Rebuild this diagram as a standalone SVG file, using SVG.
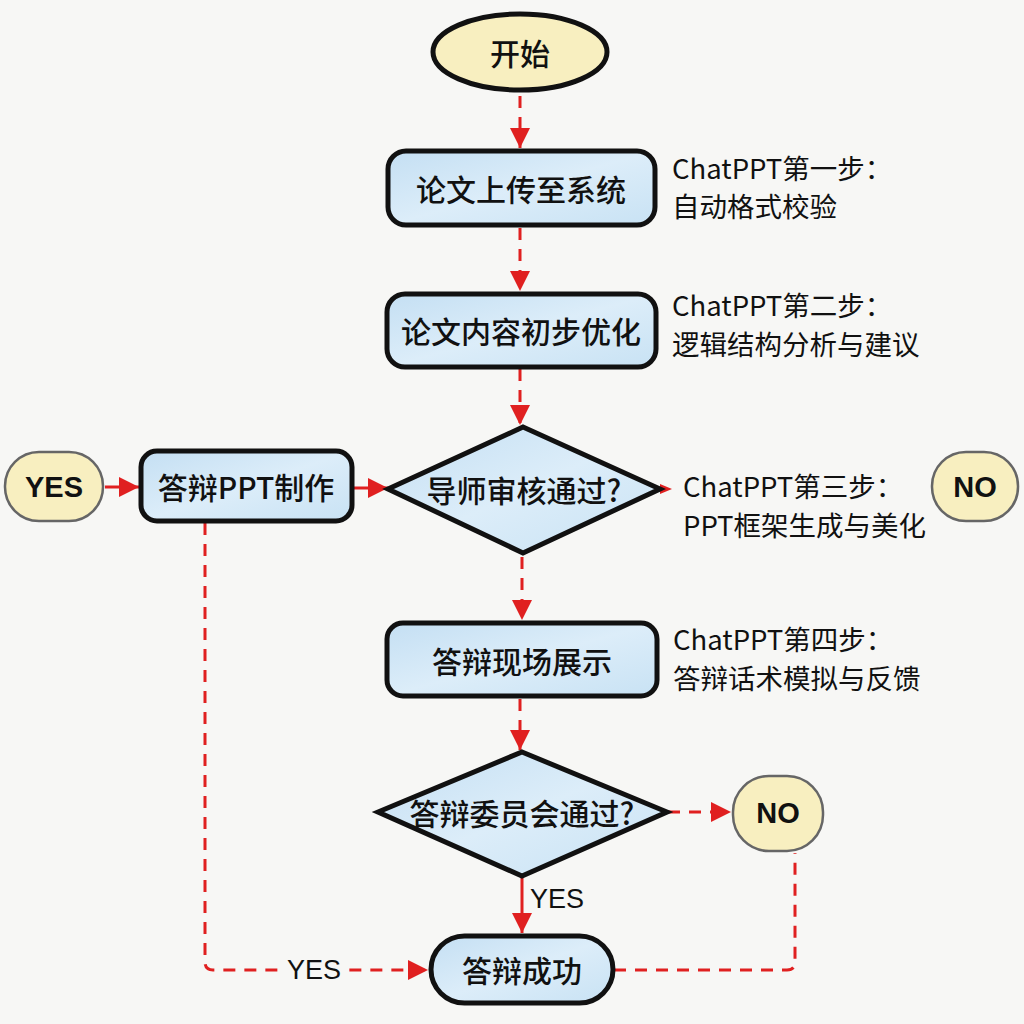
<svg xmlns="http://www.w3.org/2000/svg" width="1024" height="1024" viewBox="0 0 1024 1024">
<defs>
<style>
.node{stroke:#111;stroke-width:5}
.blue{fill:url(#gb)}
.yel{fill:#f8efc0}
.pill{fill:#f8efc0;stroke:#666;stroke-width:2.5}
.t{font-family:"Noto Sans CJK SC","Liberation Sans",sans-serif;font-size:30px;font-weight:500;fill:#111;text-anchor:middle;dominant-baseline:central}
.k{font-family:"Liberation Sans",sans-serif;font-size:29px;font-weight:bold;fill:#111;text-anchor:middle;dominant-baseline:central}
.s{font-family:"Noto Sans CJK SC","Liberation Sans",sans-serif;font-size:27.5px;fill:#111}
.l{font-family:"Liberation Sans Narrow","Liberation Sans",sans-serif;font-size:27px;fill:#111}
.d{fill:none;stroke:#e02020;stroke-width:3;stroke-dasharray:12 9}
.sol{fill:none;stroke:#e02020;stroke-width:3}
</style>
<linearGradient id="gb" x1="0" y1="0" x2="1" y2="1">
<stop offset="0" stop-color="#c4dff3"/>
<stop offset="0.5" stop-color="#dcedf9"/>
<stop offset="1" stop-color="#c8e2f4"/>
</linearGradient>
<marker id="ah" markerWidth="22" markerHeight="20" refX="20" refY="10" orient="auto" markerUnits="userSpaceOnUse">
<path d="M0,0 L20,10 L0,20 Z" fill="#e02020"/>
</marker>
</defs>
<rect width="1024" height="1024" fill="#f7f7f5"/>

<g id="connectors">
<line class="d" x1="520" y1="96" x2="520" y2="148" marker-end="url(#ah)"/>
<line class="d" x1="520" y1="228" x2="520" y2="291" marker-end="url(#ah)"/>
<line class="d" x1="520" y1="369" x2="520" y2="425" marker-end="url(#ah)"/>
<line class="sol" x1="105" y1="487" x2="139" y2="487" marker-end="url(#ah)"/>
<line class="sol" x1="354" y1="488" x2="388" y2="488" marker-end="url(#ah)"/>
<path d="M660,484 L672,489 L660,494 Z" fill="#e02020"/>
<line class="d" x1="522" y1="557" x2="522" y2="620" marker-end="url(#ah)"/>
<line class="d" x1="520" y1="699" x2="520" y2="750" marker-end="url(#ah)"/>
<line class="d" x1="668" y1="812" x2="731" y2="812" marker-end="url(#ah)"/>
<line class="sol" x1="522" y1="878" x2="522" y2="933" marker-end="url(#ah)"/>
<path class="d" d="M205,523 V962 Q205,970 213,970 H428" marker-end="url(#ah)"/>
<path class="d" d="M614,970 H787 Q795,970 795,962 V853"/>
<rect x="280" y="952" width="66" height="34" fill="#f7f7f5"/>
<text class="l" x="530" y="908">YES</text>
<text class="l" x="287" y="979">YES</text>
</g>

<g id="start">
<ellipse cx="520" cy="52" rx="87" ry="38" class="node yel"/>
<text class="t" x="520" y="52">开始</text>
</g>

<g id="upload">
<rect x="388" y="151" width="267" height="74" rx="18" class="node blue"/>
<text class="t" x="521" y="188">论文上传至系统</text>
</g>
<g id="note1">
<text class="s" x="672" y="179">ChatPPT第一步：</text>
<text class="s" x="672" y="217">自动格式校验</text>
</g>

<g id="optimize">
<rect x="387" y="294" width="269" height="73" rx="18" class="node blue"/>
<text class="t" x="521" y="330">论文内容初步优化</text>
</g>
<g id="note2">
<text class="s" x="672" y="316">ChatPPT第二步：</text>
<text class="s" x="672" y="355">逻辑结构分析与建议</text>
</g>

<g id="review">
<polygon points="523,427 660,489 523,553 388,489" class="node blue"/>
<text class="t" x="524" y="489">导师审核通过?</text>
</g>
<g id="note3">
<text class="s" x="683" y="497">ChatPPT第三步：</text>
<text class="s" x="683" y="536">PPT框架生成与美化</text>
</g>

<g id="yes1">
<rect x="5" y="452" width="98" height="69" rx="34" class="pill"/>
<text class="k" x="54" y="487">YES</text>
</g>

<g id="make">
<rect x="141" y="451" width="211" height="70" rx="16" class="node blue"/>
<text class="t" x="246" y="486">答辩PPT制作</text>
</g>

<g id="no1">
<rect x="932" y="452" width="86" height="69" rx="34" class="pill"/>
<text class="k" x="975" y="487">NO</text>
</g>

<g id="present">
<rect x="387" y="623" width="270" height="73" rx="16" class="node blue"/>
<text class="t" x="522" y="660">答辩现场展示</text>
</g>
<g id="note4">
<text class="s" x="673" y="650">ChatPPT第四步：</text>
<text class="s" x="673" y="689">答辩话术模拟与反馈</text>
</g>

<g id="committee">
<polygon points="522,752 667,812 522,876 378,812" class="node blue"/>
<text class="t" x="522" y="812">答辩委员会通过?</text>
</g>

<g id="no2">
<rect x="733" y="776" width="90" height="75" rx="36" class="pill"/>
<text class="k" x="778" y="813">NO</text>
</g>

<g id="success">
<rect x="431" y="936" width="182" height="67" rx="33.5" class="node blue"/>
<text class="t" x="522" y="969">答辩成功</text>
</g>
</svg>
